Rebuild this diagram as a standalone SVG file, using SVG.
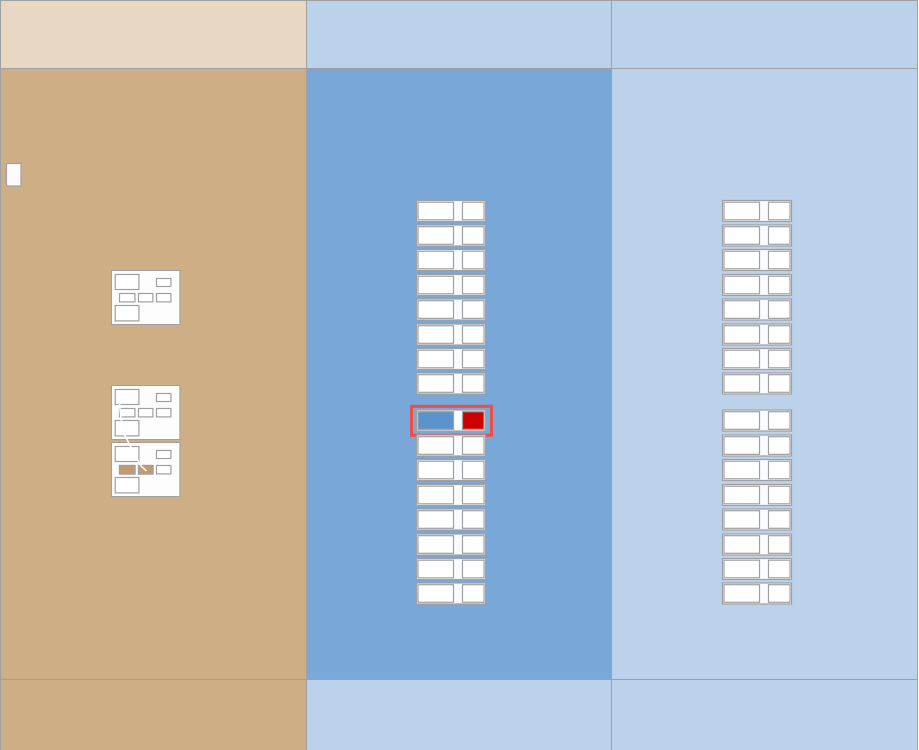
<svg xmlns="http://www.w3.org/2000/svg" xmlns:xlink="http://www.w3.org/1999/xlink" width="919" height="750" viewBox="0 0 919 750">
<style>
.lane{stroke:#a0a0a0;stroke-width:1}
.box{fill:#fdfdfd;stroke:#a0a0a0;stroke-width:1}
.in{fill:#ffffff;stroke:#a0a0a0;stroke-width:1.2}
.cont{fill:#f9fbff;stroke:#a0a0a0;stroke-width:1.2}
.tan{fill:#c19b6b;stroke:#a0a0a0;stroke-width:1.2}
.edge{fill:none;stroke:#ffffff;stroke-width:1.6}
</style>
<defs>
<g id="row">
<rect class="cont" x="0" y="0" width="69" height="21"/>
<rect class="in" x="1.5" y="1.7" width="35.5" height="17.6"/>
<rect class="in" x="46" y="1.7" width="21.5" height="17.6"/>
</g>
<g id="card">
<rect class="box" x="0" y="0" width="68.4" height="54"/>
<rect class="in" x="3.7" y="4" width="23.7" height="15"/>
<rect class="in" x="45" y="8" width="14.4" height="8"/>
<rect class="in" x="8" y="23" width="15.4" height="8.4"/>
<rect class="in" x="27" y="23" width="14.4" height="8.4"/>
<rect class="in" x="45" y="23" width="14.4" height="8.4"/>
<rect class="in" x="3.7" y="35" width="23.7" height="15.4"/>
</g>
</defs>
<g id="lanes">
<rect class="lane" x="0.5" y="0.5" width="306" height="68" fill="#e8d7c2"/>
<rect class="lane" x="306.5" y="0.5" width="305" height="68" fill="#bcd2eb"/>
<rect class="lane" x="611.5" y="0.5" width="306" height="68" fill="#bcd2eb"/>
<rect class="lane" x="0.5" y="68.5" width="306" height="611" fill="#cdae85"/>
<rect class="lane" x="306.5" y="68.5" width="305" height="611" fill="#79a7d7"/>
<rect class="lane" x="611.5" y="68.5" width="306" height="611" fill="#bcd2eb"/>
<rect class="lane" x="0.5" y="679.5" width="306" height="71" fill="#cdae85"/>
<rect class="lane" x="306.5" y="679.5" width="305" height="71" fill="#bcd2eb"/>
<rect class="lane" x="611.5" y="679.5" width="306" height="71" fill="#bcd2eb"/>
</g>
<g id="start"><rect x="6.5" y="163.5" width="14.5" height="22.5" fill="#fdfbff" stroke="#a0a0a0" stroke-width="1.2"/></g>
<g id="card1" transform="translate(111.5,270.5)"><use xlink:href="#card"/></g>
<g id="card2" transform="translate(111.5,385.5)"><use xlink:href="#card"/></g>
<g id="card3" transform="translate(111.5,442.5)">
<use xlink:href="#card"/>
<rect class="tan" x="8" y="23" width="15.4" height="8.4"/>
<rect class="tan" x="27" y="23" width="14.4" height="8.4"/>
</g>
<g id="connectors">
<path class="edge" d="M119.5,404 L121,418 L124,434 L128.5,442.5 L137,459 L141.5,466.5 L146.5,471"/>
</g>
<g id="mid">
<g id="m1" transform="translate(416.5,200.5)"><use xlink:href="#row"/></g>
<g id="m2" transform="translate(416.5,225)"><use xlink:href="#row"/></g>
<g id="m3" transform="translate(416.5,249.5)"><use xlink:href="#row"/></g>
<g id="m4" transform="translate(416.5,274.5)"><use xlink:href="#row"/></g>
<g id="m5" transform="translate(416.5,299)"><use xlink:href="#row"/></g>
<g id="m6" transform="translate(416.5,324)"><use xlink:href="#row"/></g>
<g id="m7" transform="translate(416.5,348.5)"><use xlink:href="#row"/></g>
<g id="m8" transform="translate(416.5,373)"><use xlink:href="#row"/></g>
<g id="m9" transform="translate(416.5,410)">
<rect x="-5" y="-3.7" width="80" height="29" fill="none" stroke="#e8504c" stroke-width="3"/>
<rect class="cont" x="0" y="0" width="69" height="21"/>
<rect x="1.5" y="1.7" width="35.5" height="17.6" fill="#5b93cc" stroke="#a0a0a0" stroke-width="1.2"/>
<rect x="46" y="1.7" width="21.5" height="17.6" fill="#cc0000" stroke="#a0a0a0" stroke-width="1.2"/>
</g>
<g id="m10" transform="translate(416.5,435)"><use xlink:href="#row"/></g>
<g id="m11" transform="translate(416.5,459.5)"><use xlink:href="#row"/></g>
<g id="m12" transform="translate(416.5,484.5)"><use xlink:href="#row"/></g>
<g id="m13" transform="translate(416.5,509)"><use xlink:href="#row"/></g>
<g id="m14" transform="translate(416.5,534)"><use xlink:href="#row"/></g>
<g id="m15" transform="translate(416.5,558.5)"><use xlink:href="#row"/></g>
<g id="m16" transform="translate(416.5,583)"><use xlink:href="#row"/></g>
</g>
<g id="right">
<g id="r1" transform="translate(722.5,200.5)"><use xlink:href="#row"/></g>
<g id="r2" transform="translate(722.5,225)"><use xlink:href="#row"/></g>
<g id="r3" transform="translate(722.5,249.5)"><use xlink:href="#row"/></g>
<g id="r4" transform="translate(722.5,274.5)"><use xlink:href="#row"/></g>
<g id="r5" transform="translate(722.5,299)"><use xlink:href="#row"/></g>
<g id="r6" transform="translate(722.5,324)"><use xlink:href="#row"/></g>
<g id="r7" transform="translate(722.5,348.5)"><use xlink:href="#row"/></g>
<g id="r8" transform="translate(722.5,373)"><use xlink:href="#row"/></g>
<g id="r9" transform="translate(722.5,410)"><use xlink:href="#row"/></g>
<g id="r10" transform="translate(722.5,435)"><use xlink:href="#row"/></g>
<g id="r11" transform="translate(722.5,459.5)"><use xlink:href="#row"/></g>
<g id="r12" transform="translate(722.5,484.5)"><use xlink:href="#row"/></g>
<g id="r13" transform="translate(722.5,509)"><use xlink:href="#row"/></g>
<g id="r14" transform="translate(722.5,534)"><use xlink:href="#row"/></g>
<g id="r15" transform="translate(722.5,558.5)"><use xlink:href="#row"/></g>
<g id="r16" transform="translate(722.5,583)"><use xlink:href="#row"/></g>
</g>
</svg>
